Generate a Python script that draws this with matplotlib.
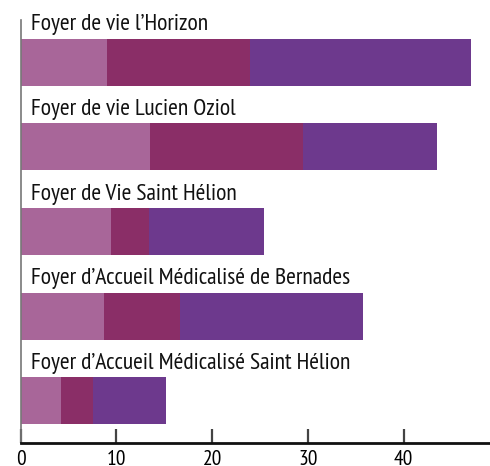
import matplotlib
matplotlib.use("Agg")
import matplotlib.pyplot as plt
import numpy as np

plt.rcParams["font.family"] = ["PT Sans Narrow", "DejaVu Sans"]

# establishments, top to bottom
categories = [
    "Foyer de vie l\u2019Horizon",
    "Foyer de vie Lucien Oziol",
    "Foyer de Vie Saint Hélion",
    "Foyer d\u2019Accueil Médicalisé de Bernades",
    "Foyer d\u2019Accueil Médicalisé Saint Hélion",
]
seg_a = [9.0, 13.5, 9.4, 8.7, 4.2]
seg_b = [15.0, 16.0, 4.0, 7.9, 3.4]
seg_c = [23.0, 14.0, 12.0, 19.1, 7.6]
xticks = [0, 10, 20, 30, 40, 50]

colors = ["#A86699", "#8A2E67", "#6D398D"]

fig = plt.figure(figsize=(4.9, 4.66), dpi=100)
# right end (50) sits just past the picture edge, like the reference crop
ax = fig.add_axes([20.5 / 490, 22.7 / 466, 479 / 490, 423.5 / 466])

y = np.arange(len(categories))[::-1]
left = np.zeros(len(categories))
for vals, c in zip([seg_a, seg_b, seg_c], colors):
    ax.barh(y, vals, left=left, height=0.555, color=c, linewidth=0)
    left += np.array(vals)

for yi, name in zip(y, categories):
    ax.text(1.1, yi + 0.375, name, fontsize=17, va="baseline", ha="left",
            color="#111111")

ax.set_xlim(0, 50)
ax.set_ylim(-0.5, 4.5)
ax.set_xticks(xticks)
ax.set_yticks([])
ax.tick_params(axis="x", direction="in", length=10, width=1.6, color="#444444",
               labelsize=15.5, pad=5)
ax.spines["top"].set_visible(False)
ax.spines["right"].set_visible(False)
ax.spines["left"].set_color("#777777")
ax.spines["left"].set_linewidth(1.2)
ax.spines["bottom"].set_color("#111111")
ax.spines["bottom"].set_linewidth(2)

fig.savefig("out.png", dpi=100)
